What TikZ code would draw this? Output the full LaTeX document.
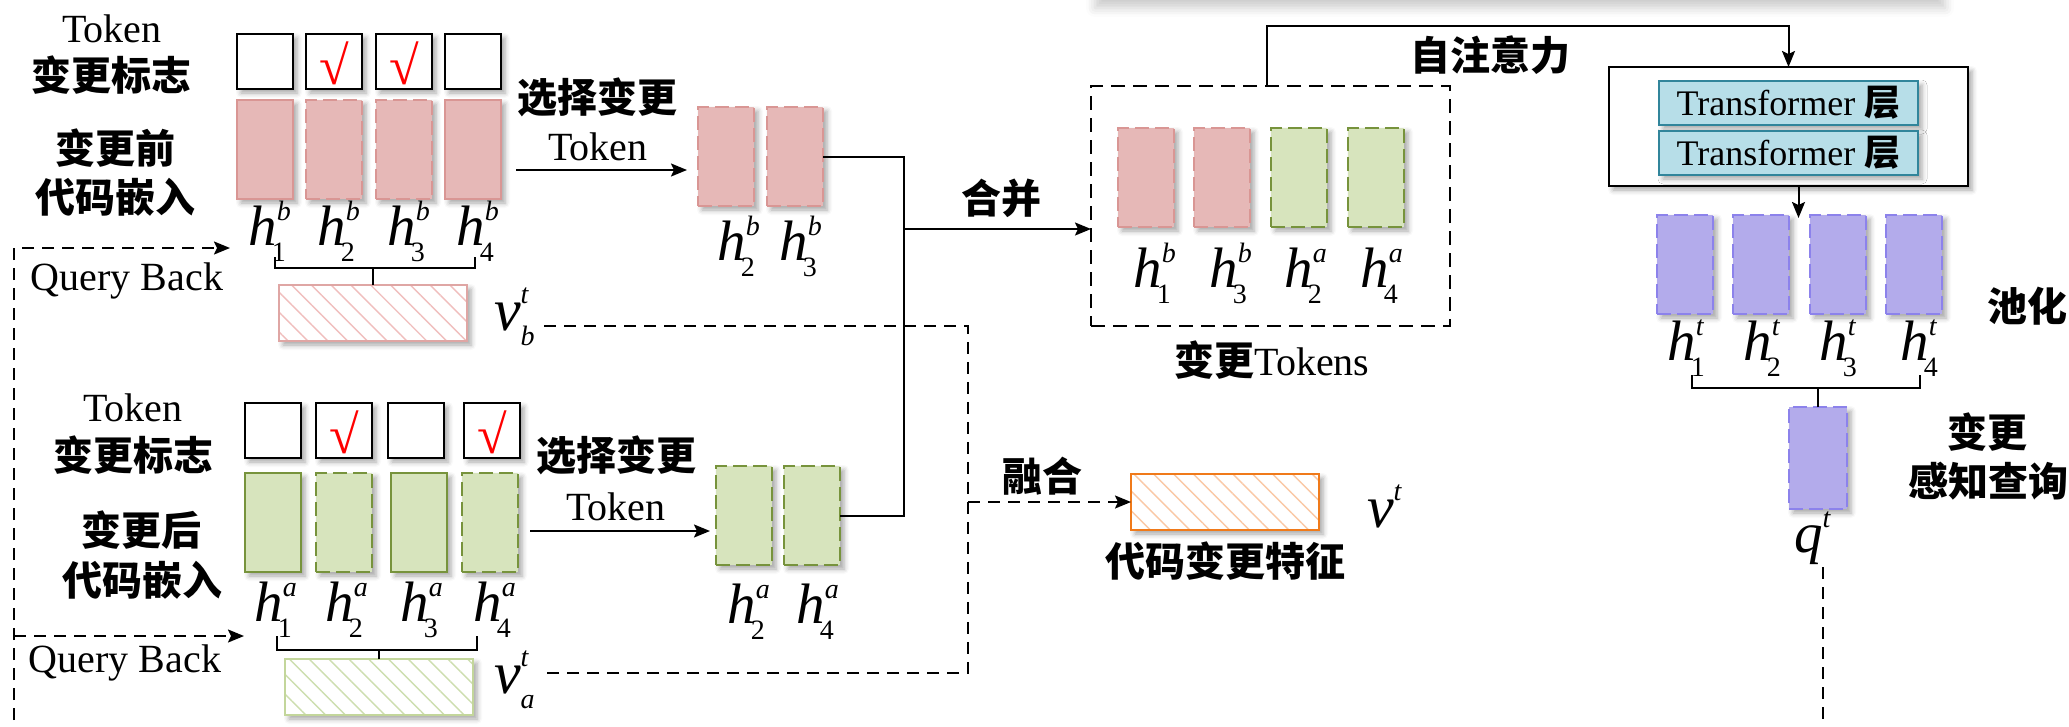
\documentclass[tikz,border=0pt]{standalone}
\usepackage{fontspec}
\setmainfont{Liberation Serif}
\newfontfamily\cjk{Noto Sans CJK SC}
\usetikzlibrary{arrows.meta,shadows.blur,patterns.meta}

\definecolor{pinkF}{RGB}{230,184,183}
\definecolor{pinkD}{RGB}{217,150,148}
\definecolor{pinkH}{RGB}{240,190,189}
\definecolor{greenF}{RGB}{215,228,189}
\definecolor{greenD}{RGB}{119,147,60}
\definecolor{greenH}{RGB}{205,222,175}
\definecolor{greenB}{RGB}{195,214,155}
\definecolor{purF}{RGB}{179,171,235}
\definecolor{purD}{RGB}{140,130,235}
\definecolor{blueF}{RGB}{183,222,232}
\definecolor{blueD}{RGB}{49,133,155}
\definecolor{orgD}{RGB}{240,122,26}
\definecolor{orgH}{RGB}{250,200,165}

% symbol sizes
\newcommand\Hf{\fontsize{57}{62}\selectfont}
\newcommand\Vf{\fontsize{60}{66}\selectfont}
\newcommand\Sf{\fontsize{28}{30}\selectfont}
% h with superscript (#1) and subscript (#2)
\newcommand\hsym[2]{{\Hf\itshape h}\rlap{\raisebox{25pt}{\Sf\itshape #1}}\kern-5pt\raisebox{-16pt}{\Sf #2}}
% v^t with optional subscript
\newcommand\vsym[1]{{\Vf\itshape v}\rlap{\raisebox{27pt}{\Sf\itshape t}}\raisebox{-15pt}{\Sf\itshape #1}}

\begin{document}
\begin{tikzpicture}[x=1pt,y=-1pt,
  every node/.style={inner sep=0pt, outer sep=0pt},
  sh/.style={blur shadow={shadow xshift=4pt,shadow yshift=-4pt,shadow blur radius=5pt,shadow opacity=35}},
  cell/.style={anchor=north west, minimum width=56pt, minimum height=99pt, line width=2.2pt, sh},
  pinkS/.style={cell, fill=pinkF, draw=pinkD},
  pinkDs/.style={pinkS, dash pattern=on 14pt off 6pt},
  greenS/.style={cell, fill=greenF, draw=greenD},
  greenDs/.style={greenS, dash pattern=on 14pt off 6pt},
  purDs/.style={cell, fill=purF, draw=purD, dash pattern=on 14pt off 6pt},
  flag/.style={anchor=north west, minimum width=56pt, minimum height=55pt, draw=black, line width=2.2pt, fill=white, sh},
  tick/.style={text=red, font=\rmfamily\fontsize{54}{54}\selectfont},
  lat/.style={font=\rmfamily\fontsize{40}{48}\selectfont},
  zh/.style={font=\cjk\bfseries\fontsize{40}{48}\selectfont},
  conn/.style={line width=2pt, draw=black},
  arr/.style={conn, -{Stealth[length=16pt,width=13pt,inset=3pt]}},
  dsh/.style={conn, dash pattern=on 12pt off 8pt},
  darr/.style={dsh, -{Stealth[length=16pt,width=13pt,inset=3pt]}},
  hatchbox/.style={anchor=north west, minimum width=188pt, minimum height=56pt, line width=2.5pt, sh, preaction={fill=white}},
  tfl/.style={anchor=north west, minimum width=259pt, minimum height=44pt, fill=blueF, draw=blueD, line width=2.5pt, sh,
              font=\rmfamily\fontsize{36}{40}\selectfont},
]
\useasboundingbox (0,0) rectangle (2069,726);

% soft shadow band along the top edge
\path[blur shadow={shadow xshift=0pt,shadow yshift=-10pt,shadow blur radius=9pt,shadow opacity=20}, fill=white]
  (1095,-80) rectangle (1945,-2);

% ---------------- before-change branch ----------------
\node[lat, anchor=base] (tokU) at (112,42) {Token};
\node[zh] (flagU) at (111,75) {变更标志};
\node[zh] (befA) at (115,148) {变更前};
\node[zh] (befB) at (115,197) {代码嵌入};

\node[flag] (f1) at (237,34) {};
\node[flag] (f2) at (306,34) {};
\node[flag] (f3) at (376,34) {};
\node[flag] (f4) at (445,34) {};
\node[tick] at ([yshift=-2pt]f2.center) {√};
\node[tick] at ([yshift=-2pt]f3.center) {√};

\node[pinkS]  (e1) at (237,100) {};
\node[pinkDs] (e2) at (306,100) {};
\node[pinkDs] (e3) at (376,100) {};
\node[pinkS]  (e4) at (445,100) {};

\node[anchor=base] (lb1) at (267,245) {\hsym{b}{1}};
\node[anchor=base] (lb2) at (336,245) {\hsym{b}{2}};
\node[anchor=base] (lb3) at (406,245) {\hsym{b}{3}};
\node[anchor=base] (lb4) at (475,245) {\hsym{b}{4}};

\node[hatchbox, draw=pinkD!85, pattern={Lines[angle=-45,distance=14pt,line width=1.4pt]}, pattern color=pinkH] (vbB) at (279,285) {};
\node[anchor=base west] (vb) at (494,330) {\vsym{b}};

\coordinate (bUl) at (275,257);
\coordinate (bUr) at (475,257);
\draw[conn] (bUl) -- (275,268) -- (475,268) -- (bUr);
\draw[conn] (vbB.north) -- (vbB.north |- 0,268);

\node[lat, anchor=base] (qbU) at (127,290) {Query Back};

\node[zh] (selU) at (597,97) {选择变更};
\node[lat, anchor=base] (selUt) at (598,160) {Token};
\coordinate (arUs) at (516,170);
\coordinate (arUe) at (687,170);
\draw[arr] (arUs) -- (arUe);

\node[pinkDs] (sb1) at (698,107) {};
\node[pinkDs] (sb2) at (767,107) {};
\node[anchor=base] at (736,260) {\hsym{b}{2}};
\node[anchor=base] at (798,260) {\hsym{b}{3}};

% ---------------- after-change branch ----------------
\node[lat, anchor=base] (tokL) at (133,421) {Token};
\node[zh] (flagL) at (133,455) {变更标志};
\node[zh] (aftA) at (141,530) {变更后};
\node[zh] (aftB) at (142,580) {代码嵌入};

\node[flag] (g1) at (245,403) {};
\node[flag] (g2) at (316,403) {};
\node[flag] (g3) at (388,403) {};
\node[flag] (g4) at (464,403) {};
\node[tick] at ([yshift=-2pt]g2.center) {√};
\node[tick] at ([yshift=-2pt]g4.center) {√};

\node[greenS]  (a1) at (245,473) {};
\node[greenDs] (a2) at (316,473) {};
\node[greenS]  (a3) at (391,473) {};
\node[greenDs] (a4) at (462,473) {};

\node[anchor=base] at (273,621) {\hsym{a}{1}};
\node[anchor=base] at (344,621) {\hsym{a}{2}};
\node[anchor=base] at (419,621) {\hsym{a}{3}};
\node[anchor=base] at (492,621) {\hsym{a}{4}};

\node[hatchbox, draw=greenB, pattern={Lines[angle=-45,distance=14pt,line width=1.4pt]}, pattern color=greenH] (vaB) at (285,659) {};
\node[anchor=base west] (va) at (494,693) {\vsym{a}};

\coordinate (bLl) at (277,636);
\coordinate (bLr) at (477,636);
\draw[conn] (bLl) -- (277,650) -- (477,650) -- (bLr);
\draw[conn] (vaB.north) -- (vaB.north |- 0,650);

\node[lat, anchor=base] (qbL) at (125,672) {Query Back};

\node[zh] (selL) at (616,455) {选择变更};
\node[lat, anchor=base] (selLt) at (616,520) {Token};
\coordinate (arLs) at (530,531);
\coordinate (arLe) at (710,531);
\draw[arr] (arLs) -- (arLe);

\node[greenDs] (sa1) at (716,466) {};
\node[greenDs] (sa2) at (784,466) {};
\node[anchor=base] at (746,623) {\hsym{a}{2}};
\node[anchor=base] at (815,623) {\hsym{a}{4}};

% ---------------- query-back paths ----------------
\coordinate (qbBot) at (14,740);
\coordinate (qbTop) at (14,248);
\coordinate (qbTopEnd) at (230,248);
\coordinate (qbMid) at (14,636);
\coordinate (qbMidEnd) at (244,636);
\draw[darr] (qbBot) -- (qbTop) -- (qbTopEnd);
\draw[darr] (qbMid) -- (qbMidEnd);

% ---------------- merge ----------------
\node[anchor=north west, minimum width=359pt, minimum height=240pt, draw=black, line width=2.6pt,
      dash pattern=on 14pt off 8pt] (frame) at (1091,86) {};

\node[pinkDs]  (m1) at (1118,128) {};
\node[pinkDs]  (m2) at (1194,128) {};
\node[greenDs] (m3) at (1271,128) {};
\node[greenDs] (m4) at (1348,128) {};
\node[anchor=base] at (1152,287) {\hsym{b}{1}};
\node[anchor=base] at (1228,287) {\hsym{b}{3}};
\node[anchor=base] at (1303,287) {\hsym{a}{2}};
\node[anchor=base] at (1379,287) {\hsym{a}{4}};
\node[lat] (chgTok) at (1272,360) {{\cjk\bfseries 变更}Tokens};

\coordinate (mj) at (904,229);
\draw[conn] (sb2.east) -| (mj);
\draw[conn] (sa2.east) -| (mj);
\draw[arr] (mj) -- (frame.west |- mj);
\node[zh] (hebing) at (1001,198) {合并};

% ---------------- fusion ----------------
\coordinate (vbEnd) at (544,326);
\coordinate (vaEnd) at (544,673);
\coordinate (fuse) at (968,502);
\draw[dsh] (vbEnd) -- (968,326) -- (968,673) -- (vaEnd);
\node[hatchbox, draw=orgD, pattern={Lines[angle=-45,distance=14pt,line width=1.4pt]}, pattern color=orgH] (ob) at (1131,474) {};
\draw[darr] (fuse) -- (ob.west);
\node[zh] (ronghe) at (1042,476) {融合};
\node[zh] (feat) at (1225,561) {代码变更特征};
\node[anchor=base west] (vt) at (1367,527) {\vsym{}};

% ---------------- transformer ----------------
\node[anchor=north west, minimum width=359pt, minimum height=119pt, draw=black, line width=2.5pt, fill=white, sh] (tfo) at (1609,67) {};
\node[tfl] (tf1) at (1659,81) {Transformer {\cjk\bfseries 层}};
\node[tfl] (tf2) at (1659,131) {Transformer {\cjk\bfseries 层}};

\coordinate (saUp) at (1267,26);
\draw[arr] (saUp |- frame.north) -- (saUp) -| (tfo.north);
\node[zh] (selfatt) at (1490,55) {自注意力};

\node[purDs] (p1) at (1657,215) {};
\node[purDs] (p2) at (1733,215) {};
\node[purDs] (p3) at (1810,215) {};
\node[purDs] (p4) at (1886,215) {};
\draw[arr] ([xshift=10pt]tfo.south) -- ++(0,32);
\node[anchor=base] at (1686,360) {\hsym{t}{1}};
\node[anchor=base] at (1762,360) {\hsym{t}{2}};
\node[anchor=base] at (1838,360) {\hsym{t}{3}};
\node[anchor=base] at (1919,360) {\hsym{t}{4}};
\node[zh] (pool) at (2027,306) {池化};

\node[purDs, minimum width=58pt, minimum height=102pt] (q) at (1789,407) {};
\coordinate (bPl) at (1692,375);
\coordinate (bPr) at (1920,375);
\draw[conn] (bPl) -- (1692,388) -- (1920,388) -- (bPr);
\draw[conn] (q.north) -- (q.north |- 0,388);
\node[anchor=base west] (qt) at (1794,552) {{\Hf\itshape q}\raisebox{25pt}{\Sf\itshape t}};
\coordinate (qdTop) at (1823,567);
\coordinate (qdBot) at (1823,740);
\draw[dsh] (qdTop) -- (qdBot);
\node[zh] (cqA) at (1987,432) {变更};
\node[zh] (cqB) at (1988,481) {感知查询};

\end{tikzpicture}
\end{document}
